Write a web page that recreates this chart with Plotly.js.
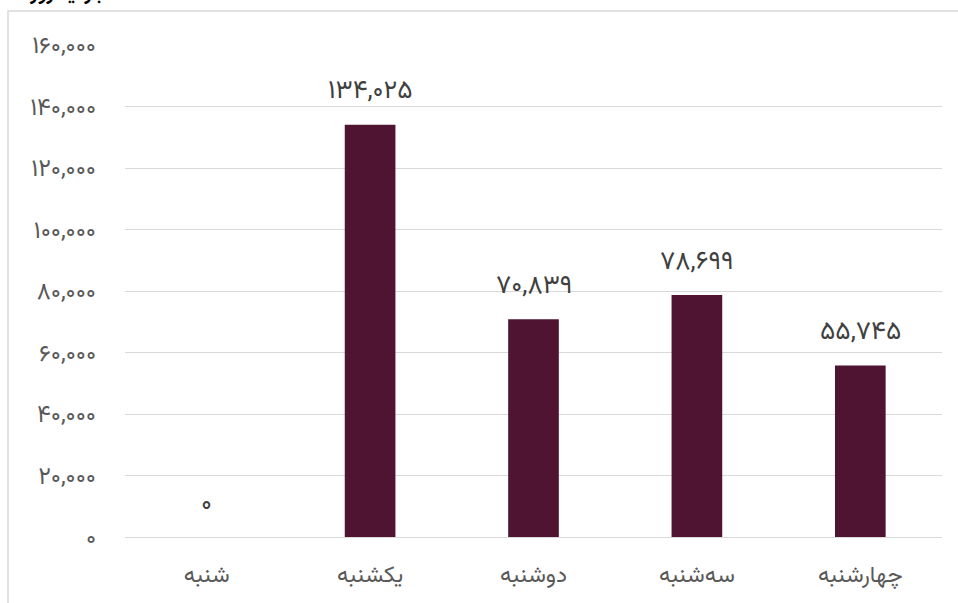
<!DOCTYPE html>
<html>
<head>
<meta charset="utf-8">
<script src="https://cdn.plot.ly/plotly-3.0.1.min.js"></script>
<style>html,body{margin:0;padding:0;background:#fff;}#chart{width:958px;height:603px;}</style>
</head>
<body>
<div id="chart"></div>
<script>
const categories = ["شنبه", "یکشنبه", "دوشنبه", "سه‌شنبه", "چهارشنبه"];
const values = [0, 134025, 70839, 78699, 55745];
const yTickVals = [0, 20000, 40000, 60000, 80000, 100000, 120000, 140000, 160000];
const yTickText = ["۰", "۲۰,۰۰۰", "۴۰,۰۰۰", "۶۰,۰۰۰", "۸۰,۰۰۰", "۱۰۰,۰۰۰", "۱۲۰,۰۰۰", "۱۴۰,۰۰۰", "۱۶۰,۰۰۰"];
const titleText = "بازدید روزانه";

const faDigits = "۰۱۲۳۴۵۶۷۸۹";
function toFa(n){
  return n.toLocaleString("en-US").replace(/[0-9]/g, d => faDigits[+d]);
}
const labels = values.map(toFa);

const FONT = "Vazirmatn, 'Noto Sans Arabic', 'DejaVu Sans', sans-serif";

const trace = {
  type: "bar",
  x: categories,
  y: values,
  marker: {color: "#4e1432"},
  cliponaxis: false,
  hoverinfo: "none"
};

const valueAnnotations = categories.map((c, i) => ({
  x: c, y: values[i], xref: "x", yref: "y",
  text: labels[i], showarrow: false,
  xanchor: "center", yanchor: "middle", yshift: 33,
  font: {family: FONT, size: 26, color: "#404040"}
}));

const layout = {
  width: 958, height: 603,
  margin: {l: 125, r: 16, t: 45, b: 66},
  paper_bgcolor: "#fff", plot_bgcolor: "#fff",
  bargap: 0.69,
  showlegend: false,
  font: {family: FONT, color: "#595959"},
  xaxis: {
    type: "category",
    tickfont: {family: FONT, size: 23, color: "#595959"},
    ticks: "", showgrid: false, zeroline: false,
    showline: true, linecolor: "#d9d9d9", linewidth: 1,
    ticklabelstandoff: 16
  },
  yaxis: {
    range: [0, 160000],
    tickvals: yTickVals, ticktext: yTickText,
    tickfont: {family: FONT, size: 24, color: "#595959"},
    showgrid: true, gridcolor: "#d9d9d9", gridwidth: 1,
    zeroline: false, showline: false, ticks: "",
    ticklabelstandoff: 28
  },
  shapes: [{
    type: "rect", xref: "paper", yref: "paper",
    x0: -0.1432, x1: 1.2, y0: -0.3, y1: 1.0691,
    line: {color: "#d9d9d9", width: 1.5}, fillcolor: "rgba(0,0,0,0)", layer: "below"
  }],
  annotations: valueAnnotations.concat([{
    text: "<b>" + titleText + "</b>", xref: "paper", yref: "paper",
    x: -0.143, y: 1.0665, xanchor: "left", yanchor: "bottom",
    showarrow: false, font: {family: FONT, size: 20, color: "#000"}
  }])
};

Plotly.newPlot("chart", [trace], layout, {displayModeBar: false, staticPlot: true});
</script>
</body>
</html>
